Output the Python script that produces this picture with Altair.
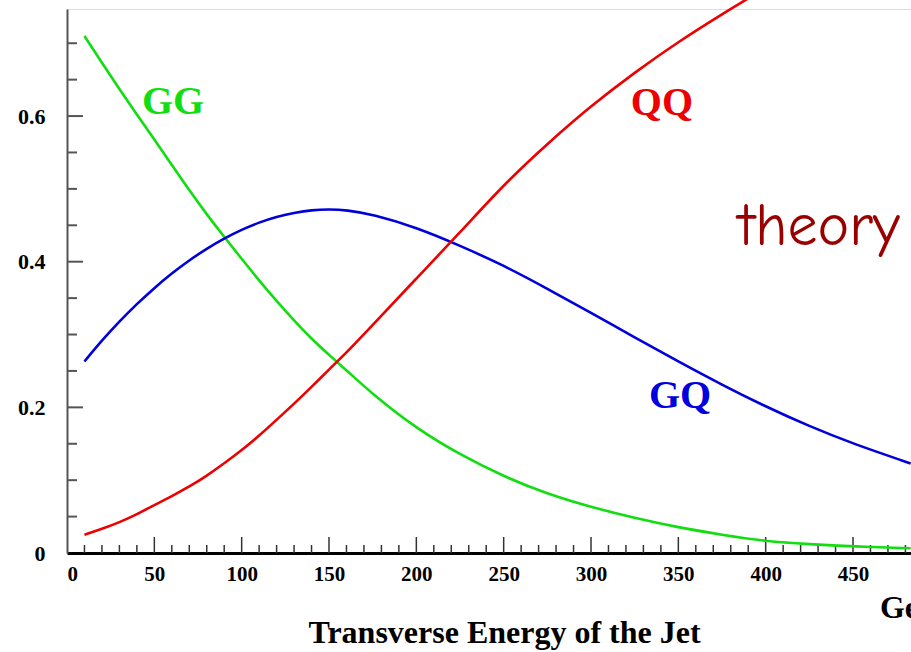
import altair as alt
import pandas as pd

# ---- data ----
gg_x = [10, 20, 30, 40, 50, 60, 70, 80, 90, 100, 110, 120, 130, 140, 150, 160, 175,
        200, 225, 250, 275, 300, 325, 350, 375, 400, 425, 450, 483]
gg_y = [0.710, 0.673, 0.637, 0.602, 0.568, 0.533, 0.498, 0.465, 0.434, 0.404, 0.374,
        0.346, 0.319, 0.294, 0.272, 0.251, 0.218, 0.171, 0.135, 0.105, 0.081, 0.063,
        0.048, 0.035, 0.025, 0.016, 0.012, 0.009, 0.0065]

gq_x = gg_x
gq_y = [0.263, 0.292, 0.318, 0.342, 0.364, 0.384, 0.402, 0.418, 0.432, 0.444, 0.454,
        0.462, 0.467, 0.471, 0.472, 0.471, 0.465, 0.447, 0.422, 0.395, 0.363, 0.330,
        0.296, 0.263, 0.231, 0.201, 0.174, 0.150, 0.123]

qq_x = [10, 20, 30, 40, 50, 60, 70, 80, 90, 100, 110, 120, 130, 140, 150, 160, 175,
        200, 225, 250, 275, 300, 325, 350, 375, 400]
qq_y = [0.025, 0.033, 0.042, 0.053, 0.066, 0.078, 0.091, 0.106, 0.123, 0.141, 0.161,
        0.183, 0.205, 0.228, 0.252, 0.275, 0.313, 0.377, 0.440, 0.506, 0.562, 0.614,
        0.660, 0.702, 0.740, 0.776]

series_names = ["GG", "GQ", "QQ"]
series_colors = ["#11dd11", "#0000dd", "#ee0000"]

x_major = [0, 50, 100, 150, 200, 250, 300, 350, 400, 450]
x_minor = [v for v in range(10, 481, 10) if v % 50 != 0]
y_major = [0.2, 0.4, 0.6]
y_minor = [0.05, 0.1, 0.15, 0.25, 0.3, 0.35, 0.45, 0.5, 0.55, 0.65, 0.7]
y_labels = [0, 0.2, 0.4, 0.6]

label_names = ["GG", "QQ", "GQ"]
label_x = [60.7, 340.6, 351.0]
label_y = [0.619, 0.618, 0.2156]
label_colors = ["#11dd11", "#ee0000", "#0000dd"]

X_DOMAIN = [0, 483.2]
Y_DOMAIN = [0, 0.747]
W, H = 844, 544
SERIF = "Times New Roman, Liberation Serif, serif"

rows = []
for name, xs, ys in [("GG", gg_x, gg_y), ("GQ", gq_x, gq_y), ("QQ", qq_x, qq_y)]:
    for a, b in zip(xs, ys):
        rows.append({"et": a, "frac": b, "proc": name})
df = pd.DataFrame(rows)

xs = alt.Scale(domain=X_DOMAIN, nice=False, zero=False)
ys = alt.Scale(domain=Y_DOMAIN, nice=False, zero=False)

lines = alt.Chart(df).mark_line(strokeWidth=2.6, interpolate="basis").encode(
    x=alt.X("et:Q", scale=xs, axis=alt.Axis(
        values=x_major, ticks=False, tickSize=0, grid=False,
        domainColor="#000000", domainWidth=3,
        labelFont=SERIF, labelFontWeight="bold", labelFontSize=21, labelColor="#000000",
        labelPadding=10, labelBaseline="top",
        title="Transverse Energy of the Jet", titleFont=SERIF, titleFontWeight="bold",
        titleFontSize=32, titleColor="#000000", titleX=437, titleY=89,
        titleAlign="center", titleBaseline="alphabetic", titleAnchor="start")),
    y=alt.Y("frac:Q", scale=ys, axis=alt.Axis(
        values=y_labels, format="~g", ticks=False, tickSize=0, grid=False,
        domainColor="#555555", domainWidth=2,
        labelFont=SERIF, labelFontWeight="bold", labelFontSize=22, labelColor="#000000",
        labelPadding=22, title=None)),
    color=alt.Color("proc:N", scale=alt.Scale(domain=series_names, range=series_colors),
                    legend=None),
    detail="proc:N",
)

ytick_major = alt.Chart(pd.DataFrame({"v": y_major})).mark_rule(
    color="#555555", strokeWidth=2).encode(
    y=alt.Y("v:Q", scale=ys), x=alt.value(0), x2=alt.value(16))
ytick_minor = alt.Chart(pd.DataFrame({"v": y_minor})).mark_rule(
    color="#555555", strokeWidth=2).encode(
    y=alt.Y("v:Q", scale=ys), x=alt.value(0), x2=alt.value(10))
xtick_major = alt.Chart(pd.DataFrame({"v": x_major[1:]})).mark_rule(
    color="#333333", strokeWidth=1.5).encode(
    x=alt.X("v:Q", scale=xs), y=alt.value(H), y2=alt.value(H - 16))
xtick_minor = alt.Chart(pd.DataFrame({"v": x_minor})).mark_rule(
    color="#333333", strokeWidth=1.5).encode(
    x=alt.X("v:Q", scale=xs), y=alt.value(H), y2=alt.value(H - 8))

labels = alt.Chart(pd.DataFrame({"t": label_names, "x": label_x, "y": label_y,
                                 "c": label_colors})).mark_text(
    font=SERIF, fontWeight="bold", fontSize=40, align="center", baseline="middle").encode(
    x=alt.X("x:Q", scale=xs), y=alt.Y("y:Q", scale=ys), text="t:N",
    color=alt.Color("c:N", scale=None))

theory = alt.Chart(pd.DataFrame({"t": ["theory"], "x": [384.2], "y": [0.423]})).mark_text(
    font="Comic Sans MS, Comic Neue, DejaVu Sans", fontSize=60, align="left",
    baseline="alphabetic", color="#990000").encode(
    x=alt.X("x:Q", scale=xs), y=alt.Y("y:Q", scale=ys), text="t:N")

gev = alt.Chart(pd.DataFrame({"t": ["GeV"], "x": [465.4], "y": [-0.089]})).mark_text(
    font=SERIF, fontWeight="bold", fontSize=32, align="left", baseline="alphabetic",
    color="#000000").encode(
    x=alt.X("x:Q", scale=xs), y=alt.Y("y:Q", scale=ys), text="t:N")

chart = alt.layer(
    ytick_minor, ytick_major, xtick_minor, xtick_major, lines, labels, theory, gev
).properties(
    width=W, height=H,
    padding={"left": 67, "top": 9, "right": 0, "bottom": 99},
    autosize=alt.AutoSizeParams(type="none"),
).configure_view(stroke=None).configure(background="white")

chart.save("out.html", embed_options={"renderer": "svg", "actions": False})
